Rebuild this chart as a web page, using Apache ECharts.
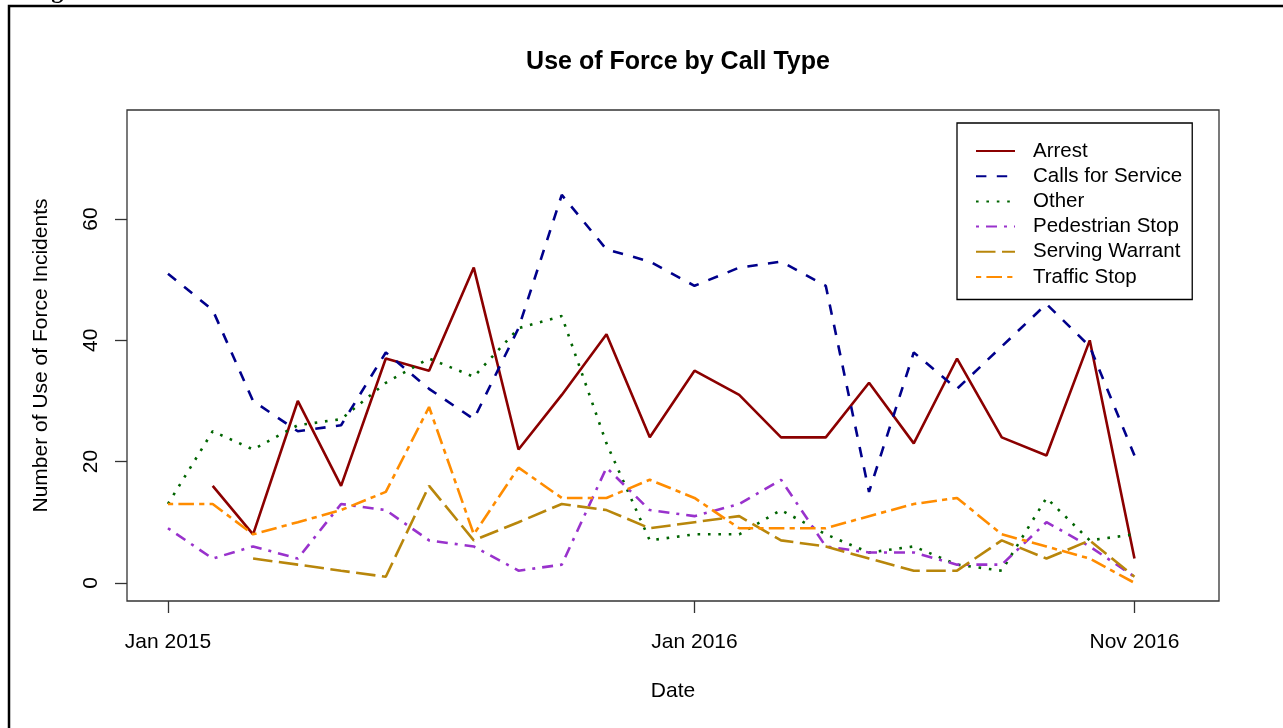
<!DOCTYPE html>
<html>
<head>
<meta charset="utf-8">
<script src="https://cdn.jsdelivr.net/npm/echarts@6/dist/echarts.min.js"></script>
<style>
html,body{margin:0;padding:0;background:#fff;}
#chart{width:1283px;height:728px;}
</style>
</head>
<body>
<div id="chart"></div>
<script>
// ---- data ----
const months = ['2015-01-01','2015-02-01','2015-03-01','2015-04-01','2015-05-01','2015-06-01','2015-07-01','2015-08-01','2015-09-01','2015-10-01','2015-11-01','2015-12-01',
                '2016-01-01','2016-02-01','2016-03-01','2016-04-01','2016-05-01','2016-06-01','2016-07-01','2016-08-01','2016-09-01','2016-10-01','2016-11-01'];
const seriesNames = ['Arrest','Calls for Service','Other','Pedestrian Stop','Serving Warrant','Traffic Stop'];
const arrest     = [null,16,8,30,16,37,35,52,22,31,41,24,35,31,24,24,33,23,37,24,21,40,4];
const calls      = [51,45,30,25,26,38,32,27,42,64,55,53,49,52,53,49,15,38,32,39,46,39,21];
const other      = [13,25,22,26,27,33,37,34,42,44,23,7,8,8,12,8,5,6,3,2,14,7,8];
const pedestrian = [9,4,6,4,13,12,7,6,2,3,19,12,11,13,17,6,5,5,3,3,10,6,1];
const warrant    = [null,null,4,3,2,1,16,7,10,13,12,9,10,11,7,6,4,2,2,7,4,7,1];
const traffic    = [13,13,8,10,12,15,29,8,19,14,14,17,14,9,9,9,11,13,14,8,6,4,0];
const xTickDates  = ['2015-01-01','2016-01-01','2016-11-01'];
const xTickLabels = ['Jan 2015','Jan 2016','Nov 2016'];
const yTicks = [0,20,40,60];

// ---- styles ----
const colors = ['#8B0000','#00008B','#006400','#9932CC','#B8860B','#FF8C00'];
const dashes = ['solid',[10.4,10.4],[2.6,7.8],[3,7,11,7],[19.5,6.5],[5.2,5.2,15.6,5.2]];
const allValues = [arrest,calls,other,pedestrian,warrant,traffic];
const FONT = '"Liberation Sans", Arial, sans-serif';

// days since 1970 (UTC) used as the x value
function dayNum(s){ const p = s.split('-').map(Number); return Date.UTC(p[0], p[1]-1, p[2]) / 86400000; }
const tickDays = xTickDates.map(dayNum);

const series = seriesNames.map((name,i) => ({
  name: name,
  type: 'line',
  data: months.map((m,j) => [dayNum(m), allValues[i][j]]).filter(d => d[1] !== null),
  symbol: 'none',
  showSymbol: false,
  lineStyle: { color: colors[i], width: 2.6, type: dashes[i] },
  itemStyle: { color: colors[i] },
  silent: true
}));

const chart = echarts.init(document.getElementById('chart'), null, {renderer:'canvas'});
chart.setOption({
  animation: false,
  backgroundColor: '#fff',
  title: {
    text: 'Use of Force by Call Type',
    left: 673, top: 45, textAlign: 'center',
    textStyle: { fontFamily: FONT, fontSize: 25, fontWeight: 'bold', color: '#000' }
  },
  grid: { left: 127, top: 110, width: 1092, height: 491, show: true, borderColor: '#333', borderWidth: 1.3, backgroundColor: 'transparent' },
  legend: {
    data: seriesNames,
    orient: 'vertical',
    left: 957, top: 123,
    padding: [17.5, 10, 12, 18],
    itemWidth: 39, itemHeight: 20, itemGap: 4.2,
    itemStyle: { opacity: 0, borderWidth: 0 },
    borderColor: '#000', borderWidth: 1.3, backgroundColor: '#fff',
    textStyle: { fontFamily: FONT, fontSize: 20.5, lineHeight: 20, color: '#000', padding: [0,0,0,13] },
    selectedMode: false
  },
  xAxis: {
    type: 'value',
    min: dayNum('2015-01-01') - 28.4,
    max: dayNum('2016-11-01') + 58.6,
    name: 'Date', nameLocation: 'middle', nameGap: 80,
    nameTextStyle: { fontFamily: FONT, fontSize: 21, color: '#000' },
    axisLine: { show: false, onZero: false },
    axisTick: { show: true, inside: false, length: 12, lineStyle: { color: '#333', width: 1.3 }, customValues: tickDays },
    axisLabel: { show: true, margin: 31, fontFamily: FONT, fontSize: 21, color: '#000', customValues: tickDays,
      formatter: function(v){ let k = -1; tickDays.forEach((t,i)=>{ if (Math.abs(t - v) < 0.5) k = i; }); return k >= 0 ? xTickLabels[k] : ''; } },
    splitLine: { show: false }
  },
  yAxis: {
    type: 'value', min: -3, max: 78,
    name: 'Number of Use of Force Incidents', nameLocation: 'middle', nameGap: 75,
    nameTextStyle: { fontFamily: FONT, fontSize: 21, color: '#000' },
    axisLine: { show: false, onZero: false },
    axisTick: { show: true, inside: false, length: 12, lineStyle: { color: '#333', width: 1.3 }, customValues: yTicks },
    axisLabel: { show: true, rotate: 90, margin: 25, fontFamily: FONT, fontSize: 21, color: '#000', customValues: yTicks },
    splitLine: { show: false }
  },
  series: series,
  graphic: [
    { type: 'rect', shape: { x: 9, y: 6, width: 1300, height: 800 }, style: { fill: 'none', stroke: '#000', lineWidth: 2.5 }, silent: true },
    { type: 'text', x: 30, y: 4, style: { text: 'Figure', fill: '#000', font: 'bold 24px "Liberation Serif", serif', verticalAlign: 'bottom' }, silent: true }
  ]
});
</script>
</body>
</html>
